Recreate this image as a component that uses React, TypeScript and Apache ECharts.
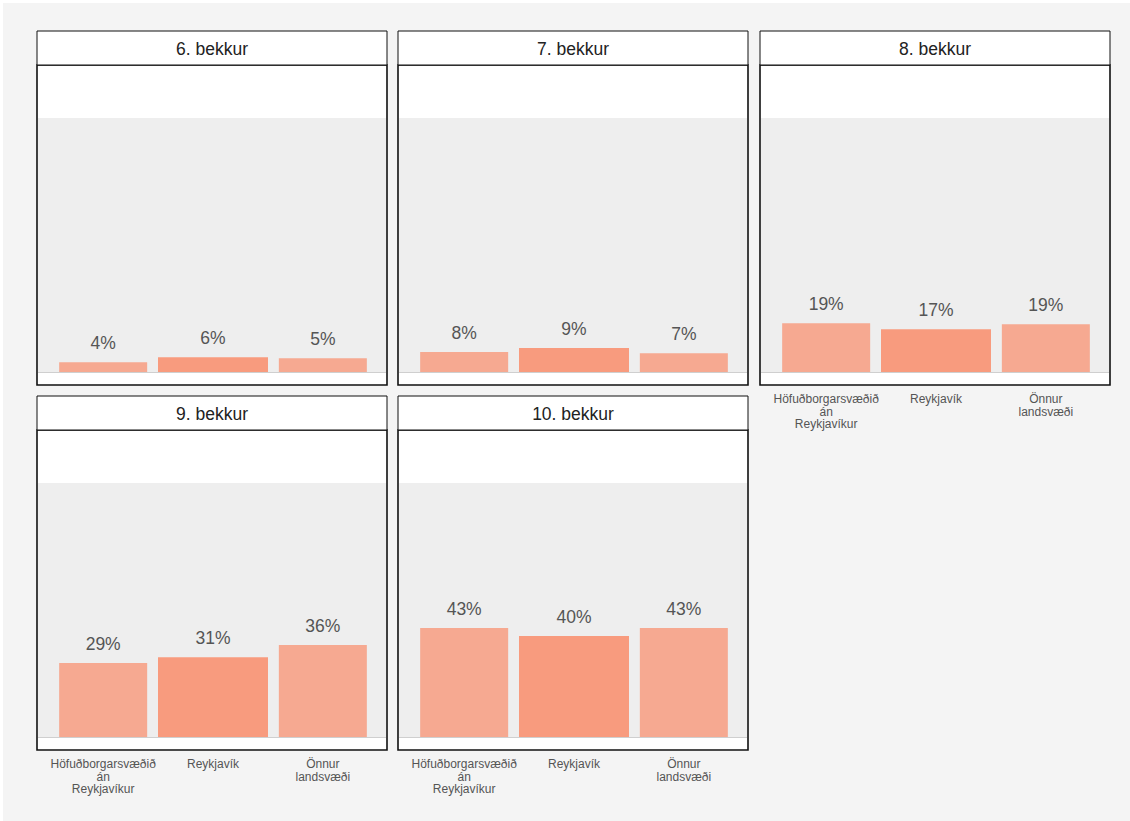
import React, { useEffect, useRef } from "react";
import * as echarts from "echarts";

const panelTitles = ["6. bekkur", "7. bekkur", "8. bekkur", "9. bekkur", "10. bekkur"];
const categories = ["Höfuðborgarsvæðið\nán\nReykjavíkur", "Reykjavík", "Önnur\nlandsvæði"];
const values6 = [3.8, 5.8, 5.4];
const values7 = [7.9, 9.4, 7.4];
const values8 = [19.2, 16.8, 18.8];
const values9 = [29.1, 31.4, 36.2];
const values10 = [42.9, 39.8, 42.9];
const panelValues = [values6, values7, values8, values9, values10];
const showCategoryLabels = [false, false, true, true, true];

const FONT = "'Liberation Sans', Arial, sans-serif";
const colX = [37, 398, 760];
const rowY = [31, 396];
const OUTER = "#F6A991";
const MIDDLE = "#F89B7E";

export default function App() {
  const ref = useRef<HTMLDivElement>(null);
  useEffect(() => {
    document.body.style.margin = "0";
    const chart = echarts.init(ref.current!, undefined, { renderer: "svg" });
    const grids: any[] = [];
    const xAxes: any[] = [];
    const yAxes: any[] = [];
    const series: any[] = [];
    const graphic: any[] = [
      { type: "rect", shape: { x: 3, y: 3, width: 1127, height: 818 }, style: { fill: "#f4f4f4" }, z: -10 },
    ];
    panelValues.forEach((vals, i) => {
      const c = i % 3;
      const r = Math.floor(i / 3);
      const px = colX[c];
      const py = rowY[r];
      graphic.push(
        { type: "rect", shape: { x: px, y: py + 34, width: 350, height: 320 }, style: { fill: "#ffffff", stroke: "#111", lineWidth: 1.6 }, z: -5 },
        { type: "rect", shape: { x: px + 1, y: py + 87, width: 348, height: 254 }, style: { fill: "#eeeeee" }, z: -4 },
        { type: "line", shape: { x1: px + 1, y1: py + 341.5, x2: px + 349, y2: py + 341.5 }, style: { stroke: "#cfcfcf", lineWidth: 1 }, z: -3 },
        { type: "rect", shape: { x: px, y: py, width: 350, height: 34 }, style: { fill: "#ffffff", stroke: "#111", lineWidth: 1 }, z: -4 },
        {
          type: "text",
          x: px + 175,
          y: py + 17.5,
          style: { text: panelTitles[i], fill: "#222", font: `17.5px ${FONT}`, align: "center", verticalAlign: "middle" },
          z: -2,
        }
      );
      grids.push({ left: px + 11.25, top: py + 87, width: 329.5, height: 254 });
      const base = {
        type: "category",
        data: categories,
        gridIndex: i,
        axisLine: { show: false },
        axisTick: { show: false },
        splitLine: { show: false },
      };
      xAxes.push({
        ...base,
        axisLabel: {
          show: showCategoryLabels[i],
          interval: 0,
          margin: 21,
          fontSize: 12,
          lineHeight: 12.5,
          color: "#555",
          fontFamily: FONT,
        },
      });
      xAxes.push({ ...base, axisLabel: { show: false } });
      yAxes.push({ type: "value", gridIndex: i, min: 0, max: 100, show: false, splitLine: { show: false } });
      const label = {
        show: true,
        position: "top",
        distance: 10,
        fontSize: 17.5,
        color: "#555",
        fontFamily: FONT,
        formatter: (p: any) => `${Math.round(p.value)}%`,
      };
      series.push({
        type: "bar",
        xAxisIndex: i * 2,
        yAxisIndex: i,
        barWidth: 88,
        data: [vals[0], null, vals[2]],
        itemStyle: { color: OUTER },
        label,
      });
      series.push({
        type: "bar",
        xAxisIndex: i * 2 + 1,
        yAxisIndex: i,
        barWidth: 110,
        data: [null, vals[1], null],
        itemStyle: { color: MIDDLE },
        label,
      });
    });
    chart.setOption({
      animation: false,
      backgroundColor: "#ffffff",
      grid: grids,
      xAxis: xAxes,
      yAxis: yAxes,
      series,
      graphic,
    });
    return () => chart.dispose();
  }, []);
  return <div ref={ref} style={{ position: "absolute", left: 0, top: 0, width: 1130, height: 821 }} />;
}
